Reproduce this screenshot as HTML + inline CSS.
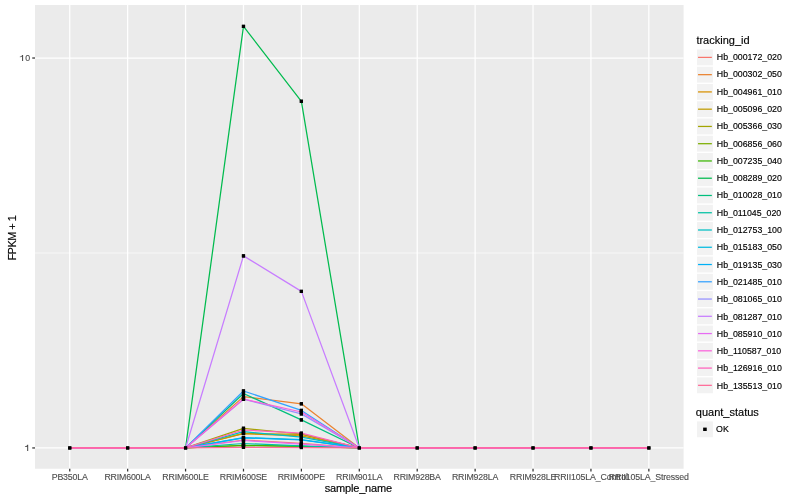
<!DOCTYPE html><html><head><meta charset="utf-8"><style>html,body{margin:0;padding:0;background:#fff;}svg{display:block;will-change:transform;}text{font-family:"Liberation Sans",sans-serif;}.t{stroke:#000;stroke-width:0.15px;}.a{stroke:#4D4D4D;stroke-width:0.12px;}</style></head><body>
<svg width="800" height="500" viewBox="0 0 800 500">
<rect x="0" y="0" width="800" height="500" fill="#ffffff"/>
<rect x="35.0" y="5.0" width="648.60" height="463.75" fill="#EBEBEB"/>
<line x1="35.0" x2="683.6" y1="252.98" y2="252.98" stroke="#fff" stroke-width="0.62"/>
<line x1="35.0" x2="683.6" y1="447.95" y2="447.95" stroke="#fff" stroke-width="1.25"/>
<line x1="35.0" x2="683.6" y1="58.02" y2="58.02" stroke="#fff" stroke-width="1.25"/>
<line x1="69.75" x2="69.75" y1="5.0" y2="468.75" stroke="#fff" stroke-width="1.25"/>
<line x1="127.66" x2="127.66" y1="5.0" y2="468.75" stroke="#fff" stroke-width="1.25"/>
<line x1="185.57" x2="185.57" y1="5.0" y2="468.75" stroke="#fff" stroke-width="1.25"/>
<line x1="243.48" x2="243.48" y1="5.0" y2="468.75" stroke="#fff" stroke-width="1.25"/>
<line x1="301.39" x2="301.39" y1="5.0" y2="468.75" stroke="#fff" stroke-width="1.25"/>
<line x1="359.30" x2="359.30" y1="5.0" y2="468.75" stroke="#fff" stroke-width="1.25"/>
<line x1="417.21" x2="417.21" y1="5.0" y2="468.75" stroke="#fff" stroke-width="1.25"/>
<line x1="475.12" x2="475.12" y1="5.0" y2="468.75" stroke="#fff" stroke-width="1.25"/>
<line x1="533.03" x2="533.03" y1="5.0" y2="468.75" stroke="#fff" stroke-width="1.25"/>
<line x1="590.94" x2="590.94" y1="5.0" y2="468.75" stroke="#fff" stroke-width="1.25"/>
<line x1="648.85" x2="648.85" y1="5.0" y2="468.75" stroke="#fff" stroke-width="1.25"/>
<polyline points="69.75,447.95 127.66,447.95 185.57,447.95 243.48,440.00 301.39,443.40 359.30,447.95 417.21,447.95 475.12,447.95 533.03,447.95 590.94,447.95 648.85,447.95" fill="none" stroke="#F8766D" stroke-width="1.25" stroke-linejoin="round" stroke-linecap="butt"/>
<polyline points="69.75,447.95 127.66,447.95 185.57,447.95 243.48,396.60 301.39,403.80 359.30,447.95 417.21,447.95 475.12,447.95 533.03,447.95 590.94,447.95 648.85,447.95" fill="none" stroke="#EA8331" stroke-width="1.25" stroke-linejoin="round" stroke-linecap="butt"/>
<polyline points="69.75,447.95 127.66,447.95 185.57,447.95 243.48,433.60 301.39,435.90 359.30,447.95 417.21,447.95 475.12,447.95 533.03,447.95 590.94,447.95 648.85,447.95" fill="none" stroke="#D89000" stroke-width="1.25" stroke-linejoin="round" stroke-linecap="butt"/>
<polyline points="69.75,447.95 127.66,447.95 185.57,447.95 243.48,433.40 301.39,434.30 359.30,447.95 417.21,447.95 475.12,447.95 533.03,447.95 590.94,447.95 648.85,447.95" fill="none" stroke="#C09B00" stroke-width="1.25" stroke-linejoin="round" stroke-linecap="butt"/>
<polyline points="69.75,447.95 127.66,447.95 185.57,447.95 243.48,428.30 301.39,434.00 359.30,447.95 417.21,447.95 475.12,447.95 533.03,447.95 590.94,447.95 648.85,447.95" fill="none" stroke="#A3A500" stroke-width="1.25" stroke-linejoin="round" stroke-linecap="butt"/>
<polyline points="69.75,447.95 127.66,447.95 185.57,447.95 243.48,445.30 301.39,446.30 359.30,447.95 417.21,447.95 475.12,447.95 533.03,447.95 590.94,447.95 648.85,447.95" fill="none" stroke="#7CAE00" stroke-width="1.25" stroke-linejoin="round" stroke-linecap="butt"/>
<polyline points="69.75,447.95 127.66,447.95 185.57,447.95 243.48,445.50 301.39,446.30 359.30,447.95 417.21,447.95 475.12,447.95 533.03,447.95 590.94,447.95 648.85,447.95" fill="none" stroke="#39B600" stroke-width="1.25" stroke-linejoin="round" stroke-linecap="butt"/>
<polyline points="69.75,447.95 127.66,447.95 185.57,447.95 243.48,26.40 301.39,101.30 359.30,447.95 417.21,447.95 475.12,447.95 533.03,447.95 590.94,447.95 648.85,447.95" fill="none" stroke="#00BB4E" stroke-width="1.25" stroke-linejoin="round" stroke-linecap="butt"/>
<polyline points="69.75,447.95 127.66,447.95 185.57,447.95 243.48,393.50 301.39,419.90 359.30,447.95 417.21,447.95 475.12,447.95 533.03,447.95 590.94,447.95 648.85,447.95" fill="none" stroke="#00BF7D" stroke-width="1.25" stroke-linejoin="round" stroke-linecap="butt"/>
<polyline points="69.75,447.95 127.66,447.95 185.57,447.95 243.48,443.50 301.39,445.90 359.30,447.95 417.21,447.95 475.12,447.95 533.03,447.95 590.94,447.95 648.85,447.95" fill="none" stroke="#00C1A3" stroke-width="1.25" stroke-linejoin="round" stroke-linecap="butt"/>
<polyline points="69.75,447.95 127.66,447.95 185.57,447.95 243.48,431.70 301.39,437.20 359.30,447.95 417.21,447.95 475.12,447.95 533.03,447.95 590.94,447.95 648.85,447.95" fill="none" stroke="#00BFC4" stroke-width="1.25" stroke-linejoin="round" stroke-linecap="butt"/>
<polyline points="69.75,447.95 127.66,447.95 185.57,447.95 243.48,437.60 301.39,439.70 359.30,447.95 417.21,447.95 475.12,447.95 533.03,447.95 590.94,447.95 648.85,447.95" fill="none" stroke="#00BAE0" stroke-width="1.25" stroke-linejoin="round" stroke-linecap="butt"/>
<polyline points="69.75,447.95 127.66,447.95 185.57,447.95 243.48,437.80 301.39,440.00 359.30,447.95 417.21,447.95 475.12,447.95 533.03,447.95 590.94,447.95 648.85,447.95" fill="none" stroke="#00B0F6" stroke-width="1.25" stroke-linejoin="round" stroke-linecap="butt"/>
<polyline points="69.75,447.95 127.66,447.95 185.57,447.95 243.48,391.00 301.39,410.40 359.30,447.95 417.21,447.95 475.12,447.95 533.03,447.95 590.94,447.95 648.85,447.95" fill="none" stroke="#35A2FF" stroke-width="1.25" stroke-linejoin="round" stroke-linecap="butt"/>
<polyline points="69.75,447.95 127.66,447.95 185.57,447.95 243.48,399.20 301.39,413.90 359.30,447.95 417.21,447.95 475.12,447.95 533.03,447.95 590.94,447.95 648.85,447.95" fill="none" stroke="#9590FF" stroke-width="1.25" stroke-linejoin="round" stroke-linecap="butt"/>
<polyline points="69.75,447.95 127.66,447.95 185.57,447.95 243.48,255.90 301.39,291.40 359.30,447.95 417.21,447.95 475.12,447.95 533.03,447.95 590.94,447.95 648.85,447.95" fill="none" stroke="#C77CFF" stroke-width="1.25" stroke-linejoin="round" stroke-linecap="butt"/>
<polyline points="69.75,447.95 127.66,447.95 185.57,447.95 243.48,440.50 301.39,444.20 359.30,447.95 417.21,447.95 475.12,447.95 533.03,447.95 590.94,447.95 648.85,447.95" fill="none" stroke="#E76BF3" stroke-width="1.25" stroke-linejoin="round" stroke-linecap="butt"/>
<polyline points="69.75,447.95 127.66,447.95 185.57,447.95 243.48,399.00 301.39,412.00 359.30,447.95 417.21,447.95 475.12,447.95 533.03,447.95 590.94,447.95 648.85,447.95" fill="none" stroke="#FA62DB" stroke-width="1.25" stroke-linejoin="round" stroke-linecap="butt"/>
<polyline points="69.75,447.95 127.66,447.95 185.57,447.95 243.48,430.00 301.39,433.20 359.30,447.95 417.21,447.95 475.12,447.95 533.03,447.95 590.94,447.95 648.85,447.95" fill="none" stroke="#FF62BC" stroke-width="1.25" stroke-linejoin="round" stroke-linecap="butt"/>
<polyline points="69.75,447.95 127.66,447.95 185.57,447.95 243.48,447.40 301.39,447.50 359.30,447.95 417.21,447.95 475.12,447.95 533.03,447.95 590.94,447.95 648.85,447.95" fill="none" stroke="#FF6A98" stroke-width="1.25" stroke-linejoin="round" stroke-linecap="butt"/>
<rect x="68.15" y="446.35" width="3.2" height="3.2" fill="#000"/><rect x="68.15" y="446.35" width="3.2" height="3.2" fill="#000"/>
<rect x="126.06" y="446.35" width="3.2" height="3.2" fill="#000"/><rect x="126.06" y="446.35" width="3.2" height="3.2" fill="#000"/>
<rect x="183.97" y="446.35" width="3.2" height="3.2" fill="#000"/><rect x="183.97" y="446.35" width="3.2" height="3.2" fill="#000"/>
<rect x="241.88" y="438.40" width="3.2" height="3.2" fill="#000"/><rect x="241.88" y="438.40" width="3.2" height="3.2" fill="#000"/>
<rect x="299.79" y="441.80" width="3.2" height="3.2" fill="#000"/><rect x="299.79" y="441.80" width="3.2" height="3.2" fill="#000"/>
<rect x="357.70" y="446.35" width="3.2" height="3.2" fill="#000"/><rect x="357.70" y="446.35" width="3.2" height="3.2" fill="#000"/>
<rect x="415.61" y="446.35" width="3.2" height="3.2" fill="#000"/><rect x="415.61" y="446.35" width="3.2" height="3.2" fill="#000"/>
<rect x="473.52" y="446.35" width="3.2" height="3.2" fill="#000"/><rect x="473.52" y="446.35" width="3.2" height="3.2" fill="#000"/>
<rect x="531.43" y="446.35" width="3.2" height="3.2" fill="#000"/><rect x="531.43" y="446.35" width="3.2" height="3.2" fill="#000"/>
<rect x="589.34" y="446.35" width="3.2" height="3.2" fill="#000"/><rect x="589.34" y="446.35" width="3.2" height="3.2" fill="#000"/>
<rect x="647.25" y="446.35" width="3.2" height="3.2" fill="#000"/><rect x="647.25" y="446.35" width="3.2" height="3.2" fill="#000"/>
<rect x="241.88" y="395.00" width="3.2" height="3.2" fill="#000"/><rect x="241.88" y="395.00" width="3.2" height="3.2" fill="#000"/>
<rect x="299.79" y="402.20" width="3.2" height="3.2" fill="#000"/><rect x="299.79" y="402.20" width="3.2" height="3.2" fill="#000"/>
<rect x="241.88" y="432.00" width="3.2" height="3.2" fill="#000"/><rect x="241.88" y="432.00" width="3.2" height="3.2" fill="#000"/>
<rect x="299.79" y="434.30" width="3.2" height="3.2" fill="#000"/><rect x="299.79" y="434.30" width="3.2" height="3.2" fill="#000"/>
<rect x="241.88" y="431.80" width="3.2" height="3.2" fill="#000"/><rect x="241.88" y="431.80" width="3.2" height="3.2" fill="#000"/>
<rect x="299.79" y="432.70" width="3.2" height="3.2" fill="#000"/><rect x="299.79" y="432.70" width="3.2" height="3.2" fill="#000"/>
<rect x="241.88" y="426.70" width="3.2" height="3.2" fill="#000"/><rect x="241.88" y="426.70" width="3.2" height="3.2" fill="#000"/>
<rect x="299.79" y="432.40" width="3.2" height="3.2" fill="#000"/><rect x="299.79" y="432.40" width="3.2" height="3.2" fill="#000"/>
<rect x="241.88" y="443.70" width="3.2" height="3.2" fill="#000"/><rect x="241.88" y="443.70" width="3.2" height="3.2" fill="#000"/>
<rect x="299.79" y="444.70" width="3.2" height="3.2" fill="#000"/><rect x="299.79" y="444.70" width="3.2" height="3.2" fill="#000"/>
<rect x="241.88" y="443.90" width="3.2" height="3.2" fill="#000"/><rect x="241.88" y="443.90" width="3.2" height="3.2" fill="#000"/>
<rect x="241.88" y="24.80" width="3.2" height="3.2" fill="#000"/><rect x="241.88" y="24.80" width="3.2" height="3.2" fill="#000"/>
<rect x="299.79" y="99.70" width="3.2" height="3.2" fill="#000"/><rect x="299.79" y="99.70" width="3.2" height="3.2" fill="#000"/>
<rect x="241.88" y="391.90" width="3.2" height="3.2" fill="#000"/><rect x="241.88" y="391.90" width="3.2" height="3.2" fill="#000"/>
<rect x="299.79" y="418.30" width="3.2" height="3.2" fill="#000"/><rect x="299.79" y="418.30" width="3.2" height="3.2" fill="#000"/>
<rect x="241.88" y="441.90" width="3.2" height="3.2" fill="#000"/><rect x="241.88" y="441.90" width="3.2" height="3.2" fill="#000"/>
<rect x="299.79" y="444.30" width="3.2" height="3.2" fill="#000"/><rect x="299.79" y="444.30" width="3.2" height="3.2" fill="#000"/>
<rect x="241.88" y="430.10" width="3.2" height="3.2" fill="#000"/><rect x="241.88" y="430.10" width="3.2" height="3.2" fill="#000"/>
<rect x="299.79" y="435.60" width="3.2" height="3.2" fill="#000"/><rect x="299.79" y="435.60" width="3.2" height="3.2" fill="#000"/>
<rect x="241.88" y="436.00" width="3.2" height="3.2" fill="#000"/><rect x="241.88" y="436.00" width="3.2" height="3.2" fill="#000"/>
<rect x="299.79" y="438.10" width="3.2" height="3.2" fill="#000"/><rect x="299.79" y="438.10" width="3.2" height="3.2" fill="#000"/>
<rect x="241.88" y="436.20" width="3.2" height="3.2" fill="#000"/><rect x="241.88" y="436.20" width="3.2" height="3.2" fill="#000"/>
<rect x="299.79" y="438.40" width="3.2" height="3.2" fill="#000"/><rect x="299.79" y="438.40" width="3.2" height="3.2" fill="#000"/>
<rect x="241.88" y="389.40" width="3.2" height="3.2" fill="#000"/><rect x="241.88" y="389.40" width="3.2" height="3.2" fill="#000"/>
<rect x="299.79" y="408.80" width="3.2" height="3.2" fill="#000"/><rect x="299.79" y="408.80" width="3.2" height="3.2" fill="#000"/>
<rect x="241.88" y="397.60" width="3.2" height="3.2" fill="#000"/><rect x="241.88" y="397.60" width="3.2" height="3.2" fill="#000"/>
<rect x="299.79" y="412.30" width="3.2" height="3.2" fill="#000"/><rect x="299.79" y="412.30" width="3.2" height="3.2" fill="#000"/>
<rect x="241.88" y="254.30" width="3.2" height="3.2" fill="#000"/><rect x="241.88" y="254.30" width="3.2" height="3.2" fill="#000"/>
<rect x="299.79" y="289.80" width="3.2" height="3.2" fill="#000"/><rect x="299.79" y="289.80" width="3.2" height="3.2" fill="#000"/>
<rect x="241.88" y="438.90" width="3.2" height="3.2" fill="#000"/><rect x="241.88" y="438.90" width="3.2" height="3.2" fill="#000"/>
<rect x="299.79" y="442.60" width="3.2" height="3.2" fill="#000"/><rect x="299.79" y="442.60" width="3.2" height="3.2" fill="#000"/>
<rect x="241.88" y="397.40" width="3.2" height="3.2" fill="#000"/><rect x="241.88" y="397.40" width="3.2" height="3.2" fill="#000"/>
<rect x="299.79" y="410.40" width="3.2" height="3.2" fill="#000"/><rect x="299.79" y="410.40" width="3.2" height="3.2" fill="#000"/>
<rect x="241.88" y="428.40" width="3.2" height="3.2" fill="#000"/><rect x="241.88" y="428.40" width="3.2" height="3.2" fill="#000"/>
<rect x="299.79" y="431.60" width="3.2" height="3.2" fill="#000"/><rect x="299.79" y="431.60" width="3.2" height="3.2" fill="#000"/>
<rect x="241.88" y="445.80" width="3.2" height="3.2" fill="#000"/><rect x="241.88" y="445.80" width="3.2" height="3.2" fill="#000"/>
<rect x="299.79" y="445.90" width="3.2" height="3.2" fill="#000"/><rect x="299.79" y="445.90" width="3.2" height="3.2" fill="#000"/>
<line x1="32.25" x2="35.0" y1="447.95" y2="447.95" stroke="#333333" stroke-width="1.25"/>
<line x1="32.25" x2="35.0" y1="58.02" y2="58.02" stroke="#333333" stroke-width="1.25"/>
<line x1="69.75" x2="69.75" y1="468.75" y2="471.5" stroke="#333333" stroke-width="1.25"/>
<line x1="127.66" x2="127.66" y1="468.75" y2="471.5" stroke="#333333" stroke-width="1.25"/>
<line x1="185.57" x2="185.57" y1="468.75" y2="471.5" stroke="#333333" stroke-width="1.25"/>
<line x1="243.48" x2="243.48" y1="468.75" y2="471.5" stroke="#333333" stroke-width="1.25"/>
<line x1="301.39" x2="301.39" y1="468.75" y2="471.5" stroke="#333333" stroke-width="1.25"/>
<line x1="359.30" x2="359.30" y1="468.75" y2="471.5" stroke="#333333" stroke-width="1.25"/>
<line x1="417.21" x2="417.21" y1="468.75" y2="471.5" stroke="#333333" stroke-width="1.25"/>
<line x1="475.12" x2="475.12" y1="468.75" y2="471.5" stroke="#333333" stroke-width="1.25"/>
<line x1="533.03" x2="533.03" y1="468.75" y2="471.5" stroke="#333333" stroke-width="1.25"/>
<line x1="590.94" x2="590.94" y1="468.75" y2="471.5" stroke="#333333" stroke-width="1.25"/>
<line x1="648.85" x2="648.85" y1="468.75" y2="471.5" stroke="#333333" stroke-width="1.25"/>
<text x="30.05" y="61.12" font-size="8.8" fill="#4D4D4D" class="a" text-anchor="end">0</text>
<path d="M22.05,55.00 L23.10,55.00 L23.10,60.95 L22.05,60.95 Z M22.05,55.00 C21.75,56.00 20.95,56.50 19.85,56.55 L19.85,57.30 C20.85,57.30 21.65,57.00 22.05,56.60 Z" fill="#4D4D4D"/>
<path d="M27.15,444.80 L28.20,444.80 L28.20,450.90 L27.15,450.90 Z M27.15,444.80 C26.85,445.80 26.05,446.30 24.95,446.35 L24.95,447.10 C25.95,447.10 26.75,446.80 27.15,446.40 Z" fill="#4D4D4D"/>
<text x="69.75" y="480.0" font-size="8.8" fill="#4D4D4D" class="a" text-anchor="middle" textLength="36.07" lengthAdjust="spacing">PB350LA</text>
<text x="127.66" y="480.0" font-size="8.8" fill="#4D4D4D" class="a" text-anchor="middle" textLength="46.49" lengthAdjust="spacing">RRIM600LA</text>
<text x="185.57" y="480.0" font-size="8.8" fill="#4D4D4D" class="a" text-anchor="middle" textLength="46.49" lengthAdjust="spacing">RRIM600LE</text>
<text x="243.48" y="480.0" font-size="8.8" fill="#4D4D4D" class="a" text-anchor="middle" textLength="47.44" lengthAdjust="spacing">RRIM600SE</text>
<text x="301.39" y="480.0" font-size="8.8" fill="#4D4D4D" class="a" text-anchor="middle" textLength="47.44" lengthAdjust="spacing">RRIM600PE</text>
<text x="359.30" y="480.0" font-size="8.8" fill="#4D4D4D" class="a" text-anchor="middle" textLength="46.49" lengthAdjust="spacing">RRIM901LA</text>
<text x="417.21" y="480.0" font-size="8.8" fill="#4D4D4D" class="a" text-anchor="middle" textLength="47.44" lengthAdjust="spacing">RRIM928BA</text>
<text x="475.12" y="480.0" font-size="8.8" fill="#4D4D4D" class="a" text-anchor="middle" textLength="46.49" lengthAdjust="spacing">RRIM928LA</text>
<text x="533.03" y="480.0" font-size="8.8" fill="#4D4D4D" class="a" text-anchor="middle" textLength="46.49" lengthAdjust="spacing">RRIM928LE</text>
<text x="590.94" y="480.0" font-size="8.8" fill="#4D4D4D" class="a" text-anchor="middle" textLength="74.02" lengthAdjust="spacing">RRII105LA_Control</text>
<text x="648.85" y="480.0" font-size="8.8" fill="#4D4D4D" class="a" text-anchor="middle" textLength="80.19" lengthAdjust="spacing">RRII105LA_Stressed</text>
<text x="358.40" y="491.9" font-size="11" fill="#000" class="t" text-anchor="middle" textLength="67.5" lengthAdjust="spacing">sample_name</text>
<text transform="translate(16,237.90) rotate(-90)" x="0" y="0" font-size="11" fill="#000" class="t" text-anchor="middle" textLength="45.4" lengthAdjust="spacing">FPKM + 1</text>
<text x="696.4" y="44" font-size="11" fill="#000" class="t">tracking_id</text>
<rect x="697.01" y="49.47" width="15.86" height="15.86" fill="#F2F2F2"/>
<line x1="698.03" x2="711.85" y1="57.40" y2="57.40" stroke="#F8766D" stroke-width="1.25"/>
<text x="716.8" y="60.10" font-size="8.8" fill="#000" class="t">Hb_000172_020</text>
<rect x="697.01" y="66.73" width="15.86" height="15.86" fill="#F2F2F2"/>
<line x1="698.03" x2="711.85" y1="74.66" y2="74.66" stroke="#EA8331" stroke-width="1.25"/>
<text x="716.8" y="77.39" font-size="8.8" fill="#000" class="t">Hb_000302_050</text>
<rect x="697.01" y="83.99" width="15.86" height="15.86" fill="#F2F2F2"/>
<line x1="698.03" x2="711.85" y1="91.92" y2="91.92" stroke="#D89000" stroke-width="1.25"/>
<text x="716.8" y="94.69" font-size="8.8" fill="#000" class="t">Hb_004961_010</text>
<rect x="697.01" y="101.25" width="15.86" height="15.86" fill="#F2F2F2"/>
<line x1="698.03" x2="711.85" y1="109.18" y2="109.18" stroke="#C09B00" stroke-width="1.25"/>
<text x="716.8" y="111.99" font-size="8.8" fill="#000" class="t">Hb_005096_020</text>
<rect x="697.01" y="118.51" width="15.86" height="15.86" fill="#F2F2F2"/>
<line x1="698.03" x2="711.85" y1="126.44" y2="126.44" stroke="#A3A500" stroke-width="1.25"/>
<text x="716.8" y="129.28" font-size="8.8" fill="#000" class="t">Hb_005366_030</text>
<rect x="697.01" y="135.77" width="15.86" height="15.86" fill="#F2F2F2"/>
<line x1="698.03" x2="711.85" y1="143.70" y2="143.70" stroke="#7CAE00" stroke-width="1.25"/>
<text x="716.8" y="146.58" font-size="8.8" fill="#000" class="t">Hb_006856_060</text>
<rect x="697.01" y="153.03" width="15.86" height="15.86" fill="#F2F2F2"/>
<line x1="698.03" x2="711.85" y1="160.96" y2="160.96" stroke="#39B600" stroke-width="1.25"/>
<text x="716.8" y="163.87" font-size="8.8" fill="#000" class="t">Hb_007235_040</text>
<rect x="697.01" y="170.29" width="15.86" height="15.86" fill="#F2F2F2"/>
<line x1="698.03" x2="711.85" y1="178.22" y2="178.22" stroke="#00BB4E" stroke-width="1.25"/>
<text x="716.8" y="181.16" font-size="8.8" fill="#000" class="t">Hb_008289_020</text>
<rect x="697.01" y="187.55" width="15.86" height="15.86" fill="#F2F2F2"/>
<line x1="698.03" x2="711.85" y1="195.48" y2="195.48" stroke="#00BF7D" stroke-width="1.25"/>
<text x="716.8" y="198.46" font-size="8.8" fill="#000" class="t">Hb_010028_010</text>
<rect x="697.01" y="204.81" width="15.86" height="15.86" fill="#F2F2F2"/>
<line x1="698.03" x2="711.85" y1="212.74" y2="212.74" stroke="#00C1A3" stroke-width="1.25"/>
<text x="716.8" y="215.75" font-size="8.8" fill="#000" class="t">Hb_011045_020</text>
<rect x="697.01" y="222.07" width="15.86" height="15.86" fill="#F2F2F2"/>
<line x1="698.03" x2="711.85" y1="230.00" y2="230.00" stroke="#00BFC4" stroke-width="1.25"/>
<text x="716.8" y="233.05" font-size="8.8" fill="#000" class="t">Hb_012753_100</text>
<rect x="697.01" y="239.33" width="15.86" height="15.86" fill="#F2F2F2"/>
<line x1="698.03" x2="711.85" y1="247.26" y2="247.26" stroke="#00BAE0" stroke-width="1.25"/>
<text x="716.8" y="250.34" font-size="8.8" fill="#000" class="t">Hb_015183_050</text>
<rect x="697.01" y="256.59" width="15.86" height="15.86" fill="#F2F2F2"/>
<line x1="698.03" x2="711.85" y1="264.52" y2="264.52" stroke="#00B0F6" stroke-width="1.25"/>
<text x="716.8" y="267.64" font-size="8.8" fill="#000" class="t">Hb_019135_030</text>
<rect x="697.01" y="273.85" width="15.86" height="15.86" fill="#F2F2F2"/>
<line x1="698.03" x2="711.85" y1="281.78" y2="281.78" stroke="#35A2FF" stroke-width="1.25"/>
<text x="716.8" y="284.94" font-size="8.8" fill="#000" class="t">Hb_021485_010</text>
<rect x="697.01" y="291.11" width="15.86" height="15.86" fill="#F2F2F2"/>
<line x1="698.03" x2="711.85" y1="299.04" y2="299.04" stroke="#9590FF" stroke-width="1.25"/>
<text x="716.8" y="302.23" font-size="8.8" fill="#000" class="t">Hb_081065_010</text>
<rect x="697.01" y="308.37" width="15.86" height="15.86" fill="#F2F2F2"/>
<line x1="698.03" x2="711.85" y1="316.30" y2="316.30" stroke="#C77CFF" stroke-width="1.25"/>
<text x="716.8" y="319.52" font-size="8.8" fill="#000" class="t">Hb_081287_010</text>
<rect x="697.01" y="325.63" width="15.86" height="15.86" fill="#F2F2F2"/>
<line x1="698.03" x2="711.85" y1="333.56" y2="333.56" stroke="#E76BF3" stroke-width="1.25"/>
<text x="716.8" y="336.82" font-size="8.8" fill="#000" class="t">Hb_085910_010</text>
<rect x="697.01" y="342.89" width="15.86" height="15.86" fill="#F2F2F2"/>
<line x1="698.03" x2="711.85" y1="350.82" y2="350.82" stroke="#FA62DB" stroke-width="1.25"/>
<text x="716.8" y="354.12" font-size="8.8" fill="#000" class="t">Hb_110587_010</text>
<rect x="697.01" y="360.15" width="15.86" height="15.86" fill="#F2F2F2"/>
<line x1="698.03" x2="711.85" y1="368.08" y2="368.08" stroke="#FF62BC" stroke-width="1.25"/>
<text x="716.8" y="371.41" font-size="8.8" fill="#000" class="t">Hb_126916_010</text>
<rect x="697.01" y="377.41" width="15.86" height="15.86" fill="#F2F2F2"/>
<line x1="698.03" x2="711.85" y1="385.34" y2="385.34" stroke="#FF6A98" stroke-width="1.25"/>
<text x="716.8" y="388.71" font-size="8.8" fill="#000" class="t">Hb_135513_010</text>
<text x="695.85" y="415.7" font-size="11" fill="#000" class="t">quant_status</text>
<rect x="697.01" y="421.37" width="15.86" height="15.86" fill="#F2F2F2"/>
<rect x="703.14" y="427.60" width="3.6" height="3.4" fill="#000"/>
<text x="716.1" y="432.40" font-size="8.8" fill="#000" class="t">OK</text>
</svg></body></html>
